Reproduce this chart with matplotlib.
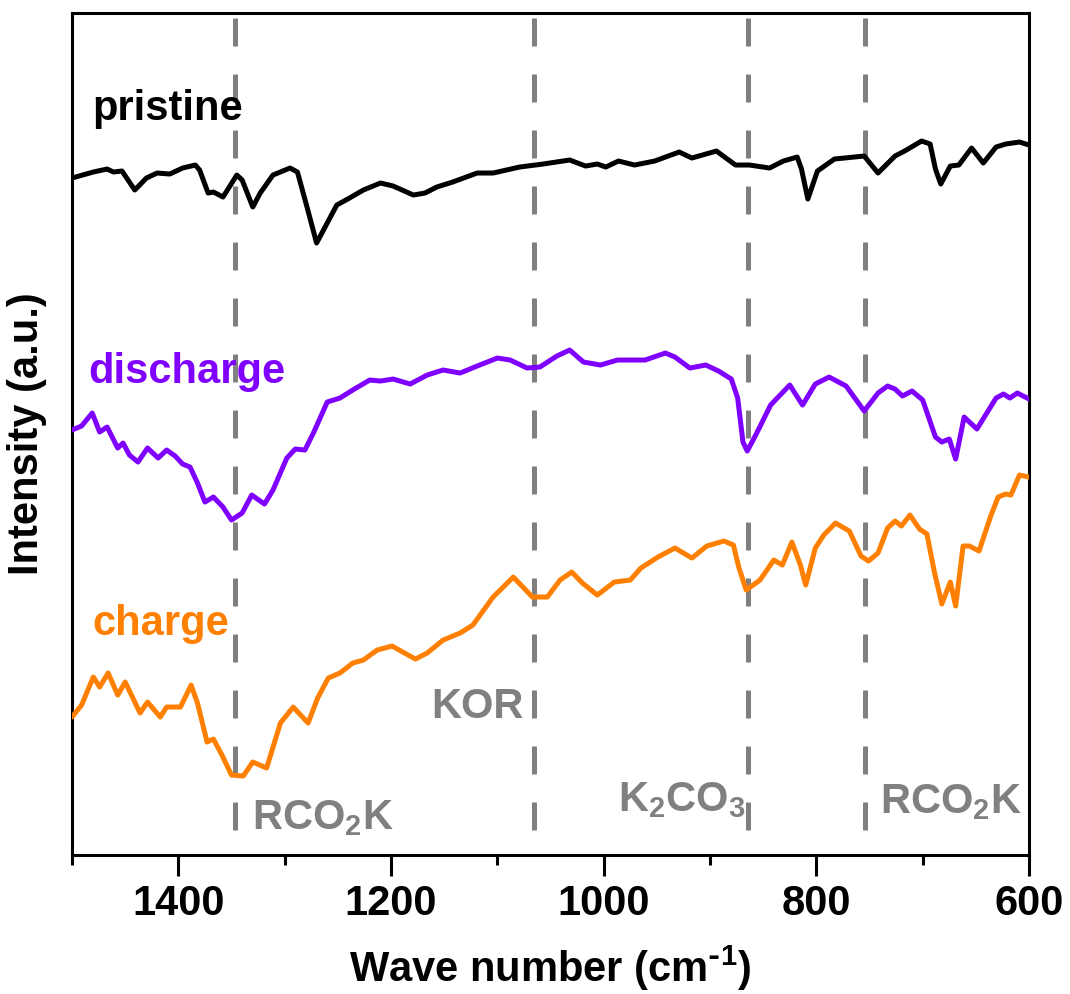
import matplotlib
matplotlib.use("Agg")
import matplotlib.pyplot as plt
from matplotlib import font_manager

# ---------------- data ----------------
pristine_wn = [1500, 1480, 1467, 1461, 1453, 1441, 1430, 1420, 1408, 1396,
               1384, 1380, 1372, 1367, 1358, 1345, 1340, 1330, 1323, 1311,
               1295, 1288, 1279, 1270, 1262, 1251, 1239, 1226, 1210, 1198,
               1179, 1168, 1157, 1142, 1119, 1104, 1079, 1057,
               1032, 1017, 1006, 998, 986, 971, 952, 929, 917, 894,
               876, 863, 844, 831, 818, 814, 808, 799, 783, 755,
               742, 726, 717, 701, 693, 688, 683, 674, 666, 654,
               643, 631, 622, 609, 600]
pristine_int = [677, 683, 686, 683, 684, 665, 677, 682, 681, 687,
                690, 685, 662, 663, 658, 680, 675, 648, 662, 680,
                687, 683, 648, 612, 628, 650, 657, 665, 672, 669,
                660, 662, 668, 673, 682, 682, 688, 691,
                695, 689, 691, 688, 694, 690, 694, 703, 697, 704,
                690, 690, 687, 694, 698, 686, 656, 684, 696, 699,
                682, 699, 704, 714, 711, 686, 671, 689, 690, 707,
                692, 708, 711, 713, 710]

discharge_wn = [1500, 1491, 1481, 1474, 1467, 1457, 1452, 1446, 1438, 1429,
                1419, 1411, 1403, 1396, 1389, 1382, 1375, 1367, 1358, 1350,
                1340, 1331, 1319, 1311, 1298, 1290, 1281, 1273, 1260, 1248,
                1236, 1220, 1210, 1198, 1182, 1166, 1151, 1135, 1119, 1100,
                1088, 1072, 1060,
                1044, 1032, 1019, 1003, 987, 961, 942, 933, 919, 904,
                892, 880, 874, 869, 865, 857, 843, 825, 813, 801,
                788, 772, 755, 742, 733, 726, 719, 710, 700, 688,
                682, 675, 669, 661, 649, 631, 624, 618, 611, 600]
discharge_int = [425, 429, 442, 423, 428, 407, 412, 400, 393, 407,
                 397, 405, 399, 391, 388, 372, 353, 358, 348, 335,
                 342, 360, 351, 365, 397, 406, 405, 422, 453, 457,
                 465, 475, 474, 476, 471, 480, 485, 482, 489, 497,
                 495, 487, 488,
                 499, 505, 493, 490, 495, 495, 502, 498, 487, 490,
                 484, 476, 457, 413, 404, 420, 450, 470, 450, 471,
                 478, 469, 444, 462, 469, 466, 459, 464, 455, 418,
                 413, 416, 396, 438, 426, 457, 461, 457, 462, 456]

charge_wn = [1500, 1491, 1480, 1474, 1466, 1457, 1450, 1436, 1429, 1417,
             1411, 1398, 1388, 1382, 1373, 1367, 1359, 1350, 1339, 1330,
             1317, 1304, 1292, 1278, 1269, 1259, 1248, 1236, 1226, 1213,
             1199, 1189, 1177, 1166, 1151, 1135, 1123, 1104, 1085, 1067,
             1053,
             1041, 1030, 1020, 1006, 990, 975, 965, 949, 933, 917,
             903, 887, 878, 873, 866, 853, 840, 832, 823, 815,
             810, 801, 793, 782, 769, 758, 751, 742, 733, 726,
             720, 712, 703, 696, 689, 682, 674, 669, 662, 656,
             647, 636, 629, 622, 617, 609, 600]
charge_int = [138, 150, 178, 168, 182, 160, 173, 142, 153, 138,
              148, 148, 170, 152, 113, 116, 100, 80, 79, 93,
              87, 132, 148, 132, 157, 177, 182, 192, 195, 205,
              209, 203, 196, 202, 215, 222, 230, 258, 278, 258,
              258,
              275, 283, 272, 260, 273, 275, 287, 298, 307, 297,
              309, 314, 310, 288, 265, 275, 295, 290, 313, 290,
              270, 307, 320, 332, 324, 299, 294, 302, 327, 334,
              329, 340, 326, 321, 283, 251, 273, 249, 309, 309,
              304, 339, 358, 361, 360, 380, 378]

marker_wn = [1347, 1066, 864, 754]
series_labels = ["pristine", "discharge", "charge"]
series_colors = ["#000000", "#8000FF", "#FF8000"]
xticks_major = [1400, 1200, 1000, 800, 600]
xticks_minor = [1500, 1300, 1100, 900, 700]

# ---------------- fonts ----------------
avail = {f.name for f in font_manager.fontManager.ttflist}
main_font = "Liberation Sans" if "Liberation Sans" in avail else "DejaVu Sans"
plt.rcParams["font.family"] = [main_font, "DejaVu Sans"]
plt.rcParams["font.weight"] = "bold"
plt.rcParams["mathtext.default"] = "regular"

fig = plt.figure(figsize=(10.70, 9.94), dpi=100)
ax = fig.add_axes([0.0673, 0.1398, 0.8944, 0.8471])

gray = "#808080"
for xv in marker_wn:
    ax.plot([xv, xv], [837, 18], color=gray, lw=3.6, dashes=(5.6, 5.6),
            solid_capstyle="butt", dash_capstyle="butt", zorder=1)

for wn, val, c in zip([pristine_wn, discharge_wn, charge_wn],
                      [pristine_int, discharge_int, charge_int], series_colors):
    ax.plot(wn, val, color=c, lw=3.6, solid_joinstyle="round",
            solid_capstyle="round", zorder=3)

fs = 30
ax.text(1481, 735, series_labels[0], color=series_colors[0], fontsize=fs,
        fontweight="bold", va="baseline", ha="left", zorder=4)
ax.text(1485, 472, series_labels[1], color=series_colors[1], fontsize=fs,
        fontweight="bold", va="baseline", ha="left", zorder=4)
ax.text(1481, 220, series_labels[2], color=series_colors[2], fontsize=fs,
        fontweight="bold", va="baseline", ha="left", zorder=4)

ax.text(1331, 26, r"$\mathregular{RCO_2K}$", color=gray, fontsize=fs,
        fontweight="bold", va="baseline", ha="left", zorder=4)
ax.text(1162, 137, "KOR", color=gray, fontsize=fs,
        fontweight="bold", va="baseline", ha="left", zorder=4)
ax.text(987, 44, r"$\mathregular{K_2CO_3}$", color=gray, fontsize=fs,
        fontweight="bold", va="baseline", ha="left", zorder=4)
ax.text(740, 42, r"$\mathregular{RCO_2K}$", color=gray, fontsize=fs,
        fontweight="bold", va="baseline", ha="left", zorder=4)

ax.set_xlim(1500, 600)
ax.set_ylim(0, 842)
ax.set_xticks(xticks_major)
ax.set_xticks(xticks_minor, minor=True)
ax.set_xticklabels([str(v) for v in xticks_major])
ax.set_yticks([])
for lab in ax.get_xticklabels():
    lab.set_fontsize(30)
    lab.set_fontweight("bold")
ax.tick_params(axis="x", which="major", direction="out", length=15, width=2.2, pad=6)
ax.tick_params(axis="x", which="minor", direction="out", length=7, width=2.2)
for sp in ax.spines.values():
    sp.set_linewidth(2.2)

ax.set_xlabel(r"Wave number (cm$^{\text{-}\mathregular{1}}$)", fontsize=30,
              fontweight="bold", labelpad=14)
ax.set_ylabel("Intensity (a.u.)", fontsize=30, fontweight="bold", labelpad=18)

fig.savefig("out.png", dpi=100)
